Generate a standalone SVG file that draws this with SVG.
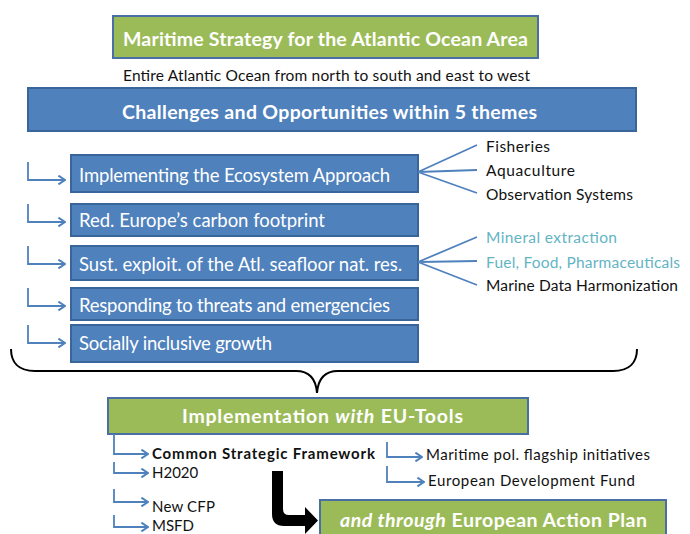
<svg xmlns="http://www.w3.org/2000/svg" width="690" height="534" viewBox="0 0 690 534">
  <defs>
    <marker id="chev" viewBox="0 0 10 10" refX="9" refY="5" markerWidth="11" markerHeight="11" markerUnits="userSpaceOnUse" orient="auto">
      <path d="M3,1 L9,5 L3,9" fill="none" stroke="#4F81BD" stroke-width="1.8" stroke-linejoin="miter"/>
    </marker>
    <style>
      text { font-family: Lato, "Open Sans", "Liberation Sans", sans-serif; }
      .green { fill: #9BBB59; stroke: #4A6FA5; stroke-width: 2; }
      .blue { fill: #4F81BD; stroke: #3A659A; stroke-width: 2; }
      .head { fill: #fff; font-weight: bold; font-size: 19.5px; }
      .theme { fill: #fff; font-size: 18.5px; }
      .item { fill: #111; font-size: 15.5px; }
      .teal { fill: #63B4C4; font-size: 15.5px; }
      .tool { fill: #111; font-size: 15px; }
      .link { fill: none; stroke: #4F81BD; stroke-width: 1.8; }
      .elbow { fill: none; stroke: #4F81BD; stroke-width: 1.8; marker-end: url(#chev); }
    </style>
  </defs>
  <rect width="690" height="534" fill="#fff"/>

  <!-- strategy title -->
  <g id="strategy">
    <rect class="green" x="113" y="16" width="425" height="42"/>
    <text class="head" x="123" y="46" textLength="405" lengthAdjust="spacing">Maritime Strategy for the Atlantic Ocean Area</text>
  </g>
  <g id="scope">
    <text class="item" x="123" y="80.5" font-size="14.5" textLength="407" lengthAdjust="spacing">Entire Atlantic Ocean from north to south and east to west</text>
  </g>

  <!-- themes banner -->
  <g id="challenges">
    <rect class="blue" x="28" y="88" width="608" height="43"/>
    <text class="head" x="122" y="119" textLength="415" lengthAdjust="spacing">Challenges and Opportunities within 5 themes</text>
  </g>

  <!-- five themes -->
  <g id="theme-ecosystem">
    <rect class="blue" x="71" y="155" width="347" height="37"/>
    <text class="theme" x="79" y="181.5" textLength="311" lengthAdjust="spacing">Implementing the Ecosystem Approach</text>
  </g>
  <g id="theme-carbon">
    <rect class="blue" x="71" y="204" width="347" height="32"/>
    <text class="theme" x="79" y="226.5" textLength="246" lengthAdjust="spacing">Red. Europe’s carbon footprint</text>
  </g>
  <g id="theme-seafloor">
    <rect class="blue" x="71" y="246" width="347" height="34"/>
    <text class="theme" x="79" y="271" textLength="323" lengthAdjust="spacing">Sust. exploit. of the Atl. seafloor nat. res.</text>
  </g>
  <g id="theme-threats">
    <rect class="blue" x="71" y="288" width="347" height="32"/>
    <text class="theme" x="79" y="311.5" textLength="311" lengthAdjust="spacing">Responding to threats and emergencies</text>
  </g>
  <g id="theme-social">
    <rect class="blue" x="71" y="325" width="347" height="37"/>
    <text class="theme" x="79" y="350" textLength="193" lengthAdjust="spacing">Socially inclusive growth</text>
  </g>

  <!-- sub-topics -->
  <g id="topic-fisheries"><text class="item" x="486" y="151.5" textLength="64" lengthAdjust="spacing">Fisheries</text></g>
  <g id="topic-aquaculture"><text class="item" x="486" y="176" textLength="89" lengthAdjust="spacing">Aquaculture</text></g>
  <g id="topic-observation"><text class="item" x="486" y="200" textLength="147" lengthAdjust="spacing">Observation Systems</text></g>
  <g id="topic-mineral"><text class="teal" x="486" y="243" textLength="131" lengthAdjust="spacing">Mineral extraction</text></g>
  <g id="topic-fuel"><text class="teal" x="486" y="268" textLength="194" lengthAdjust="spacing">Fuel, Food, Pharmaceuticals</text></g>
  <g id="topic-data"><text class="item" x="486" y="291" textLength="192" lengthAdjust="spacing">Marine Data Harmonization</text></g>

  <!-- implementation -->
  <g id="implementation">
    <rect class="green" x="108" y="398" width="420" height="36"/>
    <text class="head" x="182" y="423" textLength="281" lengthAdjust="spacing">Implementation <tspan font-style="italic">with</tspan> EU-Tools</text>
  </g>
  <g id="tool-csf"><text class="tool" x="152" y="459" font-weight="bold" textLength="223" lengthAdjust="spacing">Common Strategic Framework</text></g>
  <g id="tool-h2020"><text class="tool" x="152" y="478">H2020</text></g>
  <g id="tool-cfp"><text class="tool" x="152" y="512" textLength="63" lengthAdjust="spacing">New CFP</text></g>
  <g id="tool-msfd"><text class="tool" x="152" y="530.5">MSFD</text></g>
  <g id="tool-flagship"><text class="tool" x="426" y="460" textLength="224" lengthAdjust="spacing">Maritime pol. flagship initiatives</text></g>
  <g id="tool-edf"><text class="tool" x="428" y="485.5" textLength="207" lengthAdjust="spacing">European Development Fund</text></g>

  <!-- action plan -->
  <g id="action-plan">
    <rect class="green" x="320" y="500" width="346" height="50"/>
    <text class="head" x="340" y="527" textLength="307" lengthAdjust="spacing"><tspan font-style="italic">and through</tspan> European Action Plan</text>
  </g>

  <!-- connectors -->
  <g id="connectors">
    <!-- theme bullets -->
    <path class="elbow" d="M28,162 V180 H65"/>
    <path class="elbow" d="M28,204 V222 H65"/>
    <path class="elbow" d="M28,246 V264 H65"/>
    <path class="elbow" d="M28,288 V306 H65"/>
    <path class="elbow" d="M28,325 V343 H65"/>

    <!-- fans to sub-topics -->
    <path class="link" d="M418,172 L477,145 M418,172 L477,170 M418,172 L477,193"/>
    <path class="link" d="M418,262 L477,237 M418,262 L477,261 M418,262 L477,285"/>

    <!-- brace grouping the themes -->
    <path d="M11,349 C11,362 18,371 35,371 H296 C310,371 316,380 317,393 C318,380 324,371 338,371 H613 C630,371 637,362 637,349" fill="none" stroke="#000" stroke-width="2"/>

    <!-- tool bullets -->
    <path class="elbow" d="M114,434 V454 H148"/>
    <path class="elbow" d="M114,462 V473 H148"/>
    <path class="elbow" d="M114,489 V502 H148"/>
    <path class="elbow" d="M114,515 V527 H148"/>
    <path class="elbow" d="M387,442 V457 H422"/>
    <path class="elbow" d="M387,466 V482 H424"/>

    <!-- bent arrow to the action plan -->
    <path d="M272,471 H283 V509 Q283,515 289,515 H305 V507 L318,520.5 L305,534 V526 H284 Q272,526 272,514 Z" fill="#000"/>
  </g>
</svg>
